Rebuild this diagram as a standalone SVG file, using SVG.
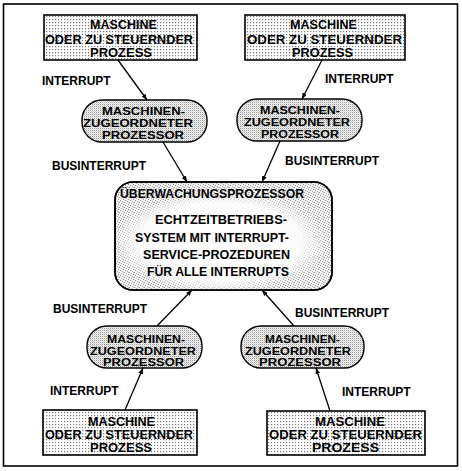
<svg xmlns="http://www.w3.org/2000/svg" width="462" height="471" viewBox="0 0 462 471">
  <defs>
    <!-- halftone screens -->
    <pattern id="dots" width="3" height="3" patternUnits="userSpaceOnUse">
      <rect width="3" height="3" fill="#ffffff"/>
      <rect x="1" y="1" width="1.2" height="1.2" fill="#7a7a7a"/>
    </pattern>
    <pattern id="fine" width="2" height="2" patternUnits="userSpaceOnUse">
      <rect width="2" height="2" fill="#f4f4f4"/>
      <rect x="0" y="0" width="1" height="1" fill="#9a9a9a"/>
      <rect x="1" y="1" width="1" height="1" fill="#d6d6d6"/>
    </pattern>
    <pattern id="grain" width="5" height="5" patternUnits="userSpaceOnUse">
      <rect width="5" height="5" fill="#f2f2f2"/>
      <rect x="0" y="0" width="1" height="1" fill="#8c8c8c"/>
      <rect x="2" y="1" width="1" height="1" fill="#a8a8a8"/>
      <rect x="4" y="2" width="1" height="1" fill="#999"/>
      <rect x="1" y="3" width="1" height="1" fill="#b0b0b0"/>
      <rect x="3" y="4" width="1" height="1" fill="#8f8f8f"/>
      <rect x="3" y="2" width="1" height="1" fill="#c4c4c4"/>
    </pattern>
    <radialGradient id="clear" cx="0.5" cy="0.5" r="0.5">
      <stop offset="0" stop-color="#fff" stop-opacity="1"/>
      <stop offset="0.75" stop-color="#fff" stop-opacity="0.9"/>
      <stop offset="1" stop-color="#fff" stop-opacity="0"/>
    </radialGradient>
    <clipPath id="mainClip">
      <rect x="115" y="182" width="217" height="108" rx="18"/>
    </clipPath>
    <marker id="arrow" markerWidth="7" markerHeight="6" refX="6" refY="3" orient="auto" markerUnits="userSpaceOnUse">
      <path d="M0,0.6 L6,3 L0,5.4 Z" fill="#000"/>
    </marker>
  </defs>
  <style>
    text { font-family: "Liberation Sans", Arial, Helvetica, sans-serif; font-weight: bold; fill: #000; }
    .box { fill: url(#dots); stroke: #000; stroke-width: 1.6; }
    .pill { fill: url(#fine); stroke: #000; stroke-width: 1.4; }
    .main { fill: url(#grain); stroke: #000; stroke-width: 1.6; }
    .t { font-size: 12.5px; }
    .p { font-size: 11px; }
    .lbl { font-size: 12px; }
    .mt { font-size: 12.5px; }
    .wire { stroke: #000; stroke-width: 1.3; fill: none; marker-end: url(#arrow); }
  </style>

  <!-- outer frame -->
  <rect x="3.5" y="4" width="454" height="462" fill="none" stroke="#000" stroke-width="1.6"/>

  <!-- machines / processes -->
  <g id="machine-tl">
    <rect class="box" x="44" y="15" width="153" height="45"/>
    <text class="t" x="90" y="29" textLength="67" lengthAdjust="spacingAndGlyphs">MASCHINE</text>
    <text class="t" x="45" y="44" textLength="148" lengthAdjust="spacingAndGlyphs">ODER ZU STEUERNDER</text>
    <text class="t" x="90" y="57" textLength="62" lengthAdjust="spacingAndGlyphs">PROZESS</text>
  </g>
  <g id="machine-tr">
    <rect class="box" x="245" y="15" width="160" height="45"/>
    <text class="t" x="290" y="29" textLength="67" lengthAdjust="spacingAndGlyphs">MASCHINE</text>
    <text class="t" x="247" y="44" textLength="155" lengthAdjust="spacingAndGlyphs">ODER ZU STEUERNDER</text>
    <text class="t" x="292" y="57" textLength="61" lengthAdjust="spacingAndGlyphs">PROZESS</text>
  </g>
  <g id="machine-bl">
    <rect class="box" x="43" y="410" width="154" height="45"/>
    <text class="t" x="88" y="426" textLength="67" lengthAdjust="spacingAndGlyphs">MASCHINE</text>
    <text class="t" x="45" y="439" textLength="148" lengthAdjust="spacingAndGlyphs">ODER ZU STEUERNDER</text>
    <text class="t" x="90" y="452" textLength="62" lengthAdjust="spacingAndGlyphs">PROZESS</text>
  </g>
  <g id="machine-br">
    <rect class="box" x="267" y="411" width="158" height="44"/>
    <text class="t" x="315" y="426" textLength="70" lengthAdjust="spacingAndGlyphs">MASCHINE</text>
    <text class="t" x="269" y="439" textLength="153" lengthAdjust="spacingAndGlyphs">ODER ZU STEUERNDER</text>
    <text class="t" x="312" y="452" textLength="67" lengthAdjust="spacingAndGlyphs">PROZESS</text>
  </g>

  <!-- machine-assigned processors -->
  <g id="proc-tl">
    <rect class="pill" x="82" y="100" width="125" height="42" rx="20"/>
    <text class="p" x="102" y="115" textLength="83" lengthAdjust="spacingAndGlyphs">MASCHINEN-</text>
    <text class="p" x="83" y="127" textLength="110" lengthAdjust="spacingAndGlyphs">ZUGEORDNETER</text>
    <text class="p" x="102" y="138.5" textLength="82" lengthAdjust="spacingAndGlyphs">PROZESSOR</text>
  </g>
  <g id="proc-tr">
    <rect class="pill" x="237" y="99" width="125" height="42" rx="20"/>
    <text class="p" x="260" y="114" textLength="80" lengthAdjust="spacingAndGlyphs">MASCHINEN-</text>
    <text class="p" x="244" y="126" textLength="106" lengthAdjust="spacingAndGlyphs">ZUGEORDNETER</text>
    <text class="p" x="261" y="137.5" textLength="78" lengthAdjust="spacingAndGlyphs">PROZESSOR</text>
  </g>
  <g id="proc-bl">
    <rect class="pill" x="87" y="326" width="115" height="42" rx="20"/>
    <text class="p" x="107" y="343" textLength="78" lengthAdjust="spacingAndGlyphs">MASCHINEN-</text>
    <text class="p" x="90" y="355" textLength="106" lengthAdjust="spacingAndGlyphs">ZUGEORDNETER</text>
    <text class="p" x="103" y="366" textLength="81" lengthAdjust="spacingAndGlyphs">PROZESSOR</text>
  </g>
  <g id="proc-br">
    <rect class="pill" x="241" y="326" width="123" height="42" rx="20"/>
    <text class="p" x="265" y="343" textLength="75" lengthAdjust="spacingAndGlyphs">MASCHINEN-</text>
    <text class="p" x="245" y="355" textLength="106" lengthAdjust="spacingAndGlyphs">ZUGEORDNETER</text>
    <text class="p" x="259" y="366" textLength="82" lengthAdjust="spacingAndGlyphs">PROZESSOR</text>
  </g>

  <!-- supervisory processor -->
  <g id="supervisor">
    <rect class="main" x="115" y="182" width="217" height="108" rx="18"/>
    <ellipse cx="220" cy="242" rx="108" ry="52" fill="url(#clear)" clip-path="url(#mainClip)"/>
    <rect x="115" y="182" width="217" height="108" rx="18" fill="none" stroke="#000" stroke-width="1.6"/>
    <text class="mt" x="120" y="198" textLength="184" lengthAdjust="spacingAndGlyphs">ÜBERWACHUNGSPROZESSOR</text>
    <text class="mt" x="155" y="224" textLength="132" lengthAdjust="spacingAndGlyphs">ECHTZEITBETRIEBS-</text>
    <text class="mt" x="135" y="242" textLength="154" lengthAdjust="spacingAndGlyphs">SYSTEM MIT INTERRUPT-</text>
    <text class="mt" x="143" y="259" textLength="147" lengthAdjust="spacingAndGlyphs">SERVICE-PROZEDUREN</text>
    <text class="mt" x="147" y="276" textLength="142" lengthAdjust="spacingAndGlyphs">FÜR ALLE INTERRUPTS</text>
  </g>

  <!-- connectors and their labels -->
  <g id="connectors">
    <line class="wire" x1="118" y1="60" x2="147" y2="100"/>
    <line class="wire" x1="322" y1="60" x2="302" y2="99"/>
    <line class="wire" x1="163" y1="142" x2="187" y2="182"/>
    <line class="wire" x1="280" y1="141" x2="262" y2="182"/>
    <line class="wire" x1="157" y1="326" x2="192" y2="290"/>
    <line class="wire" x1="294" y1="326" x2="262" y2="290"/>
    <line class="wire" x1="125" y1="410" x2="143" y2="368"/>
    <line class="wire" x1="330" y1="411" x2="316" y2="368"/>
    <text class="lbl" x="42" y="85">INTERRUPT</text>
    <text class="lbl" x="325" y="83">INTERRUPT</text>
    <text class="lbl" x="52" y="170">BUSINTERRUPT</text>
    <text class="lbl" x="285" y="165">BUSINTERRUPT</text>
    <text class="lbl" x="53" y="313">BUSINTERRUPT</text>
    <text class="lbl" x="295" y="317">BUSINTERRUPT</text>
    <text class="lbl" x="50" y="395">INTERRUPT</text>
    <text class="lbl" x="342" y="396">INTERRUPT</text>
  </g>
</svg>
